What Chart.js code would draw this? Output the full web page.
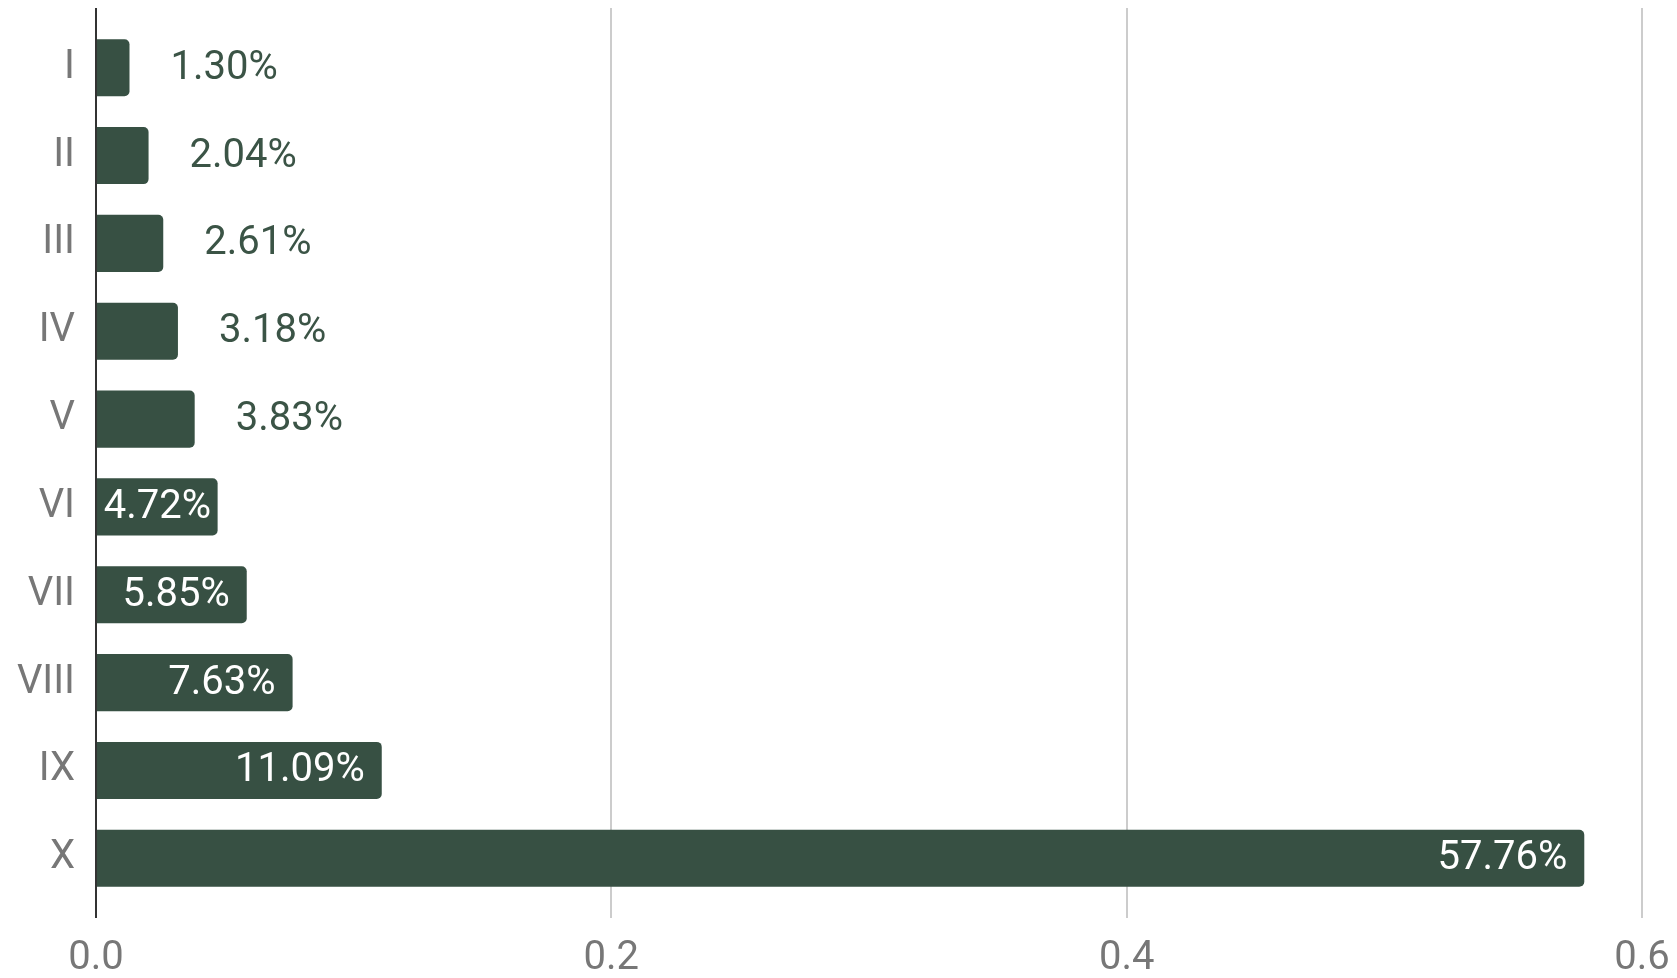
<!DOCTYPE html>
<html>
<head>
<meta charset="utf-8">
<script src="https://cdn.jsdelivr.net/npm/chart.js@4"></script>
<style>
  html, body { margin: 0; padding: 0; background: #fff; }
  #wrap { width: 1677px; height: 978px; }
</style>
</head>
<body>
<div id="wrap"><canvas id="chart" width="1677" height="978"></canvas></div>
<script>
// categories, top to bottom
const categories = ["I", "II", "III", "IV", "V", "VI", "VII", "VIII", "IX", "X"];
const shares = [0.0130, 0.0204, 0.0261, 0.0318, 0.0383, 0.0472, 0.0585, 0.0763, 0.1109, 0.5776];
const xTicks = [0, 0.2, 0.4, 0.6];

const barColor = "#375043";
const labelFont = "40px Roboto";

// value labels: inside the bar (white) when they fit, else after it
const valueLabels = {
  id: "valueLabels",
  afterDatasetsDraw(chart) {
    const ctx = chart.ctx;
    const meta = chart.getDatasetMeta(0);
    ctx.save();
    ctx.font = labelFont;
    ctx.textBaseline = "middle";
    meta.data.forEach((bar, i) => {
      const text = (shares[i] * 100).toFixed(2) + "%";
      const w = ctx.measureText(text).width;
      const barW = bar.x - bar.base;
      if (w + 12 <= barW) {
        const pad = Math.min(17, (barW - w) / 2);
        ctx.fillStyle = "#ffffff";
        ctx.textAlign = "right";
        ctx.fillText(text, bar.x - pad, bar.y + 1);
      } else {
        ctx.fillStyle = "#3b5446";
        ctx.textAlign = "left";
        ctx.fillText(text, bar.x + 41, bar.y + 1);
      }
    });
    ctx.restore();
  }
};

const ctx = document.getElementById("chart").getContext("2d");
new Chart(ctx, {
  type: "bar",
  data: {
    datasets: [{
      data: shares.map((v, i) => ({ x: v, y: i })),
      backgroundColor: barColor,
      borderRadius: 5,
      barPercentage: 0.65,
      categoryPercentage: 1
    }]
  },
  options: {
    indexAxis: "y",
    responsive: false,
    animation: false,
    layout: { padding: { top: 8, right: 35, bottom: 0, left: 0 } },
    plugins: { legend: { display: false }, tooltip: { enabled: false } },
    scales: {
      x: {
        type: "linear",
        min: 0,
        max: 0.6,
        afterBuildTicks: s => { s.ticks = xTicks.map(v => ({ value: v })); },
        afterFit: s => { s.height = 60; s.paddingLeft = 0; s.paddingRight = 0; },
        ticks: {
          font: { family: "Roboto", size: 40 },
          color: "#777777",
          padding: 17,
          callback: v => Number(v).toFixed(1)
        },
        grid: {
          color: c => (c.tick && c.tick.value === 0 ? "#333333" : "#cccccc"),
          lineWidth: 2,
          drawTicks: false
        },
        border: { display: false }
      },
      y: {
        type: "linear",
        reverse: true,
        offset: false,
        min: -0.68,
        max: 9.68,
        afterBuildTicks: s => { s.ticks = categories.map((c, i) => ({ value: i })); },
        afterFit: s => { s.width = 96; s.paddingTop = 0; s.paddingBottom = 0; },
        ticks: {
          font: { family: "Roboto", size: 40 },
          color: "#777777",
          padding: 13,
          autoSkip: false,
          callback: v => categories[v]
        },
        grid: { display: false },
        border: { display: false }
      }
    }
  },
  plugins: [valueLabels]
});
</script>
</body>
</html>
